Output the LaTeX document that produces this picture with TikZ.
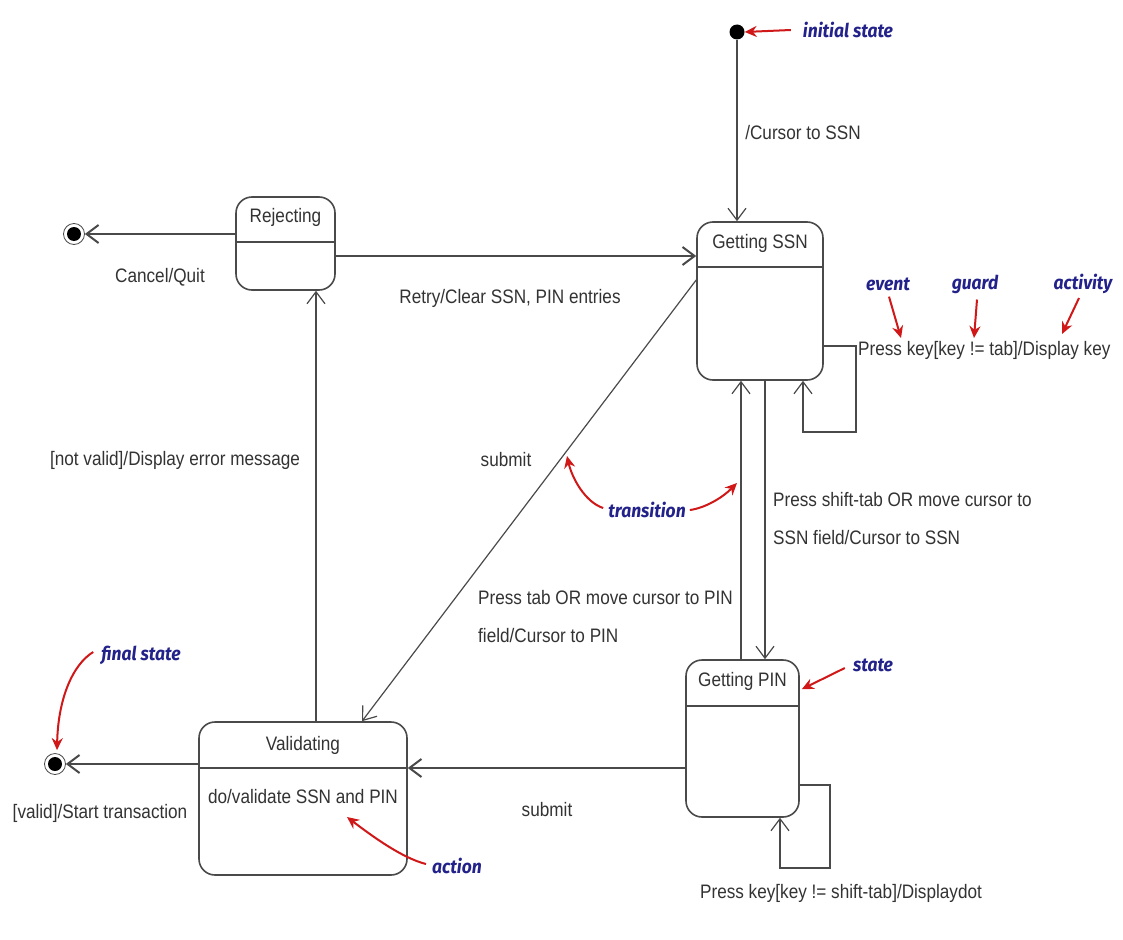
\documentclass[tikz,border=0pt]{standalone}
\usepackage{fontspec}
\setmainfont[FakeStretch=0.88]{Liberation Sans}
\newfontfamily\notefont[FakeStretch=0.92]{Fira Sans}
\usetikzlibrary{arrows.meta,calc}
\definecolor{ink}{HTML}{333333}
\definecolor{edge}{HTML}{4A4A4A}
\definecolor{notecol}{HTML}{22228A}
\definecolor{pointercol}{HTML}{D01818}

\begin{document}
\begin{tikzpicture}[x=1pt,y=-1pt,
  every node/.style={text=ink, font=\fontsize{19.5}{38}\selectfont},
  statebox/.style={draw=edge, line width=1.6pt, rounded corners=16pt, inner sep=0pt},
  lbl/.style={inner sep=0pt},
  trans/.style={draw=edge, line width=1.2pt, -{Straight Barb[length=12pt,width=18pt]}},
  heavy/.style={trans, line width=2pt},
  divider/.style={draw=edge, line width=1.6pt},
  notelbl/.style={text=notecol, font=\notefont\bfseries\itshape\fontsize{19}{22}\selectfont, inner sep=0pt},
  pointer/.style={draw=pointercol, line width=2pt, -{Stealth[length=12pt,width=11pt]}},
  startdot/.style={circle, fill=black, inner sep=0pt, minimum size=15pt},
  enddot/.style={circle, draw=edge, line width=0.8pt, minimum size=21pt, inner sep=0pt,
    path picture={\fill[black] (path picture bounding box.center) circle (7pt);}},
]
\fill[white] (0,0) rectangle (1123,939);
\useasboundingbox (0,0) rectangle (1123,939);

% ---- states ----
\node[statebox, minimum width=126pt, minimum height=158pt] (ssn) at (760,301) {};
\node[statebox, minimum width=99pt, minimum height=93pt] (rej) at (285.5,243.5) {};
\node[statebox, minimum width=113pt, minimum height=157pt] (pin) at (742.5,738.5) {};
\node[statebox, minimum width=208pt, minimum height=153pt] (val) at (303,798.5) {};

\draw[divider] ([yshift=-46pt]ssn.north west) -- ([yshift=-46pt]ssn.north east);
\draw[divider] ([yshift=-46pt]rej.north west) -- ([yshift=-46pt]rej.north east);
\draw[divider] ([yshift=-47pt]pin.north west) -- ([yshift=-47pt]pin.north east);
\draw[divider] ([yshift=-47pt]val.north west) -- ([yshift=-47pt]val.north east);

\node[lbl] (ssnname) at ($(ssn.north)+(0,22)$) {Getting SSN};
\node[lbl] (rejname) at ($(rej.north)+(0,21)$) {Rejecting};
\node[lbl] (pinname) at ($(pin.north)+(0,22)$) {Getting PIN};
\node[lbl] (valname) at ($(val.north)+(0,24)$) {Validating};
\node[lbl] (valdo) at (303,797) {do/validate SSN and PIN};

% ---- pseudo states ----
\node[startdot] (init) at (737,32) {};
\node[enddot] (fin1) at (74,234) {};
\node[enddot] (fin2) at (55,764) {};

% ---- transitions ----
\draw[trans] (init) -- (init |- ssn.north);
\node[lbl] (lcur) at (803,133) {/Cursor to SSN};

\draw[heavy] (rej.west |- fin1) -- (fin1);
\node[lbl] (lcancel) at (160,277) {Cancel/Quit};

\coordinate (rowretry) at (0,256);
\draw[heavy] (rej.east |- rowretry) -- (ssn.west |- rowretry);
\node[lbl] (lretry) at (510,298) {Retry/Clear SSN, PIN entries};

\coordinate (ssnloopa) at (856,346);
\coordinate (ssnloopb) at (803,432);
\draw[trans] (ssn.east |- ssnloopa) -- (ssnloopa) |- (ssnloopb) -- (ssnloopb |- ssn.south);
\node[lbl, anchor=west] (lkey) at (858,350) {Press key[key != tab]/Display key};

\coordinate (diagstart) at (0,280);
\coordinate (diagend) at (362,0);
\draw[trans] (ssn.west |- diagstart) -- (val.north -| diagend);
\node[lbl] (lsubmita) at (506,460) {submit};

\coordinate (upx) at (741,0);
\coordinate (downx) at (765,0);
\draw[trans] (pin.north -| upx) -- (ssn.south -| upx);
\draw[trans] (ssn.south -| downx) -- (pin.north -| downx);
\node[lbl, anchor=west, align=left] (lshift) at (773,519) {Press shift-tab OR move cursor to\\SSN field/Cursor to SSN};
\node[lbl, anchor=west, align=left] (ltab) at (478,617) {Press tab OR move cursor to PIN\\field/Cursor to PIN};

\coordinate (pinloopa) at (830,785);
\coordinate (pinloopb) at (780,868);
\draw[trans] (pin.east |- pinloopa) -- (pinloopa) |- (pinloopb) -- (pinloopb |- pin.south);
\node[lbl] (ldot) at (841,893) {Press key[key != shift-tab]/Displaydot};

\coordinate (rowsubmit) at (0,768);
\draw[heavy] (pin.west |- rowsubmit) -- (val.east |- rowsubmit);
\node[lbl] (lsubmitb) at (547,810) {submit};

\draw[heavy] (val.west |- fin2) -- (fin2);
\node[lbl] (lvalid) at (100,813) {[valid]/Start transaction};

\coordinate (colnv) at (316,0);
\draw[trans] (val.north -| colnv) -- (rej.south -| colnv);
\node[lbl] (lnotvalid) at (175,460) {[not valid]/Display error message};

% ---- annotations ----
\node[notelbl] (ninit) at (848,30) {initial state};
\draw[pointer] ($(ninit.west)+(-12,0)$) -- (init.east);

\node[notelbl] (nevent) at (888,284) {event};
\node[notelbl] (nguard) at (975,284) {guard};
\node[notelbl] (nactivity) at (1083,284) {activity};
\coordinate (evtip) at (901,338);
\coordinate (gdtip) at (974,338);
\coordinate (actvtip) at (1062,334);
\draw[pointer] ($(nevent.south)+(1,6)$) -- (evtip);
\draw[pointer] ($(nguard.south)+(2,6)$) -- (gdtip);
\draw[pointer] ($(nactivity.south)+(-4,4)$) -- (actvtip);

\node[notelbl] (ntrans) at (647,510) {transition};
\coordinate (trtipl) at (567,456);
\coordinate (trtipr) at (737,483);
\draw[pointer] ($(ntrans.west)+(-5,-2)$) .. controls (585,502) and (572,478) .. (trtipl);
\draw[pointer] ($(ntrans.east)+(4,0)$) .. controls (705,508) and (722,498) .. (trtipr);

\node[notelbl] (nstate) at (873,665) {state};
\draw[pointer] ($(nstate.west)+(-8,3)$) -- ($(pin.north east)+(2,30)$);

\node[notelbl] (nfinal) at (141,655) {final state};
\draw[pointer] ($(nfinal.west)+(-8,-3)$) .. controls (72,665) and (58,700) .. ($(fin2.north)+(2,-3)$);

\node[notelbl] (naction) at (457,866) {action};
\coordinate (acttip) at (347,817);
\draw[pointer] ($(naction.west)+(-6,-2)$) .. controls (402,858) and (372,836) .. (acttip);
\end{tikzpicture}
\end{document}
